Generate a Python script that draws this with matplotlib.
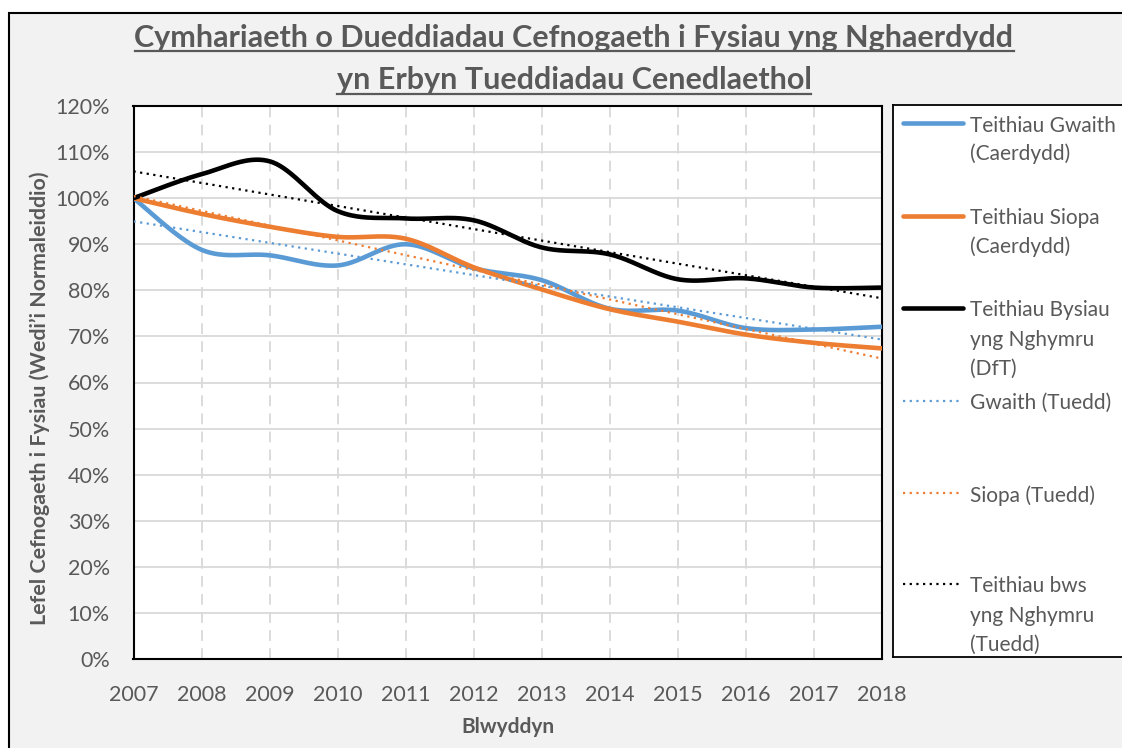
import numpy as np
import matplotlib
matplotlib.use('Agg')
import matplotlib.pyplot as plt
from matplotlib.patches import Rectangle
from matplotlib.lines import Line2D

plt.rcParams['font.family'] = ['Lato', 'DejaVu Sans']
plt.rcParams['font.size'] = 15

# data (normalised, 2007 = 100%)
years = [2007, 2008, 2009, 2010, 2011, 2012, 2013, 2014, 2015, 2016, 2017, 2018]
gwaith = [100, 88.8, 87.6, 85.4, 90.0, 84.8, 82.2, 76.0, 75.6, 71.8, 71.5, 72.1]
siopa = [100, 96.6, 93.8, 91.6, 91.2, 85.0, 80.2, 75.9, 73.2, 70.4, 68.6, 67.4]
bysiau = [100, 105.2, 108.0, 97.2, 95.6, 95.2, 89.3, 87.8, 82.4, 82.6, 80.6, 80.6]

series_labels = ['Teithiau Gwaith\n(Caerdydd)', 'Teithiau Siopa\n(Caerdydd)',
                 'Teithiau Bysiau\nyng Nghymru\n(DfT)']
trend_labels = ['Gwaith (Tuedd)', 'Siopa (Tuedd)', 'Teithiau bws\nyng Nghymru\n(Tuedd)']
y_ticks = list(range(0, 121, 10))

colors = ['#5B9BD5', '#ED7D31', '#000000']
grey_txt = '#595959'
W, H = 1122, 748


def smooth(x, y, n=40):
    # excel style smoothed line (catmull-rom -> bezier)
    p = np.column_stack([x, y]).astype(float)
    out = []
    for i in range(len(p) - 1):
        p0 = p[max(i - 1, 0)]
        p1 = p[i]
        p2 = p[i + 1]
        p3 = p[min(i + 2, len(p) - 1)]
        c1 = p1 + (p2 - p0) / 6
        c2 = p2 - (p3 - p1) / 6
        t = np.linspace(0, 1, n)[:, None]
        seg = ((1 - t) ** 3) * p1 + 3 * ((1 - t) ** 2) * t * c1 + 3 * (1 - t) * t ** 2 * c2 + t ** 3 * p2
        out.append(seg if i == 0 else seg[1:])
    out = np.vstack(out)
    return out[:, 0], out[:, 1]


fig = plt.figure(figsize=(W / 100, H / 100), dpi=100, facecolor='white')

# chart area background + border
bg = Rectangle((9 / W, -0.02), 1.1, 1 - 13 / H + 0.02, transform=fig.transFigure,
               facecolor='#F2F2F2', edgecolor='black', linewidth=1.5, zorder=-10)
fig.patches.append(bg)

ax = fig.add_axes([133.5 / W, (H - 659) / H, (882 - 133.5) / W, (659 - 106) / H])
ax.set_facecolor('white')

x = np.array(years)
for vals, col in zip([gwaith, siopa, bysiau], colors):
    xs, ys = smooth(x, vals)
    ax.plot(xs, ys, color=col, linewidth=3.3, solid_capstyle='round', zorder=3)

for vals, col in zip([gwaith, siopa, bysiau], colors):
    k, b = np.polyfit(x, vals, 1)
    ax.plot(x, k * x + b, color=col, linewidth=1.6, linestyle=(0, (1, 2)), zorder=4)

ax.set_xlim(2007, 2018)
ax.set_ylim(0, 120)
ax.set_xticks(years)
ax.set_yticks(y_ticks)
ax.set_yticklabels([f'{v}%' for v in y_ticks])
ax.tick_params(length=0, labelsize=15.5, colors=grey_txt)
ax.tick_params(axis='x', pad=18.5)
ax.tick_params(axis='y', pad=17)

ax.grid(axis='y', color='#D9D9D9', linewidth=1.3)
ax.grid(axis='x', color='#D9D9D9', linewidth=1.3, linestyle=(0, (6, 4)))
ax.set_axisbelow(True)
for s in ax.spines.values():
    s.set_color('black')
    s.set_linewidth(1.5)

fig.text(508 / W, 1 - 727 / H, 'Blwyddyn', ha='center', va='center', fontsize=15,
         fontweight='bold', color=grey_txt)
fig.text(40 / W, 1 - 398 / H, 'Lefel Cefnogaeth i Fysiau (Wedi’i Normaleiddio)', rotation=90,
         ha='center', va='center', fontsize=15.4, fontweight='bold', color=grey_txt)

# title with underline
t1 = fig.text(574 / W, 1 - 47 / H, 'Cymhariaeth o Dueddiadau Cefnogaeth i Fysiau yng Nghaerdydd',
              ha='center', va='baseline', fontsize=22, fontweight='bold', color=grey_txt)
t2 = fig.text(574 / W, 1 - 89.5 / H, 'yn Erbyn Tueddiadau Cenedlaethol',
              ha='center', va='baseline', fontsize=22, fontweight='bold', color=grey_txt)

# legend box
lax = fig.add_axes([893 / W, (H - 657) / H, (1126 - 893) / W, (657 - 105) / H])
lax.set_xlim(893, 1126)
lax.set_ylim(657, 105)
lax.set_xticks([])
lax.set_yticks([])
for s in lax.spines.values():
    s.set_color('black')
    s.set_linewidth(1.3)

entry_y = [123, 215.5, 308, 400.5, 493, 584]
styles = [(c, 3.3, '-') for c in colors] + [(c, 1.6, (0, (1, 2))) for c in colors]
for yy, lab, (c, lw, ls) in zip(entry_y, series_labels + trend_labels, styles):
    lax.add_line(Line2D([903, 963], [yy, yy], color=c, linewidth=lw, linestyle=ls,
                        solid_capstyle='round'))
    for j, part in enumerate(lab.split('\n')):
        lax.text(970, yy + 8.5 + j * 29, part, ha='left', va='baseline', fontsize=15,
                 color=grey_txt)

fig.canvas.draw()
r = fig.canvas.get_renderer()
for t, yb in [(t1, 50.5), (t2, 93.5)]:
    bb = t.get_window_extent(renderer=r)
    fig.add_artist(Line2D([bb.x0 / W, bb.x1 / W], [1 - yb / H, 1 - yb / H],
                          transform=fig.transFigure, color=grey_txt, linewidth=1.6))

fig.savefig('out.png', dpi=100, facecolor='white')
